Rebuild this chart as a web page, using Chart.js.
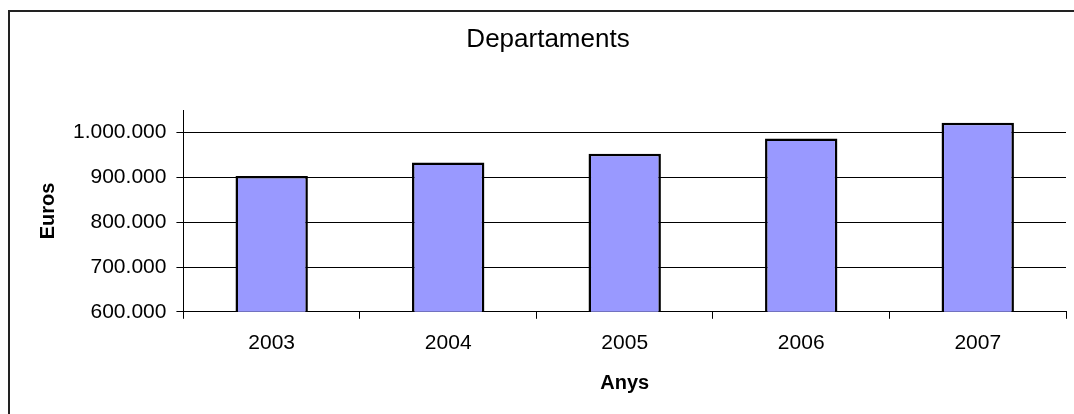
<!DOCTYPE html>
<html>
<head>
<meta charset="utf-8">
<script src="https://cdn.jsdelivr.net/npm/chart.js@4"></script>
<style>
	html, body { margin: 0; padding: 0; background: #fff; overflow: hidden; }
	#marc { position: absolute; left: 8px; top: 10px; width: 2000px; height: 2000px;
		border-left: 2px solid #222; border-top: 2px solid #222; }
	#caixa { position: absolute; left: 0; top: 0; width: 1074px; height: 414px; }
</style>
</head>
<body>
<div id="marc"></div>
<div id="caixa"><canvas id="grafic"></canvas></div>
<script>
const anys = ['2003', '2004', '2005', '2006', '2007'];
const euros = [903000, 933000, 953000, 987000, 1022000];
const ticksEuros = [600000, 700000, 800000, 900000, 1000000];

function formatEuros(v) {
	return String(v).replace(/\B(?=(\d{3})+(?!\d))/g, '.');
}

const font = 'Liberation Sans, Arial, sans-serif';
Chart.defaults.font.family = font;
Chart.defaults.color = '#000';

const ctx = document.getElementById('grafic').getContext('2d');
const chart = new Chart(ctx, {
	type: 'bar',
	data: {
		labels: anys,
		datasets: [{
			label: 'Departaments',
			data: euros,
			backgroundColor: '#9999ff',
			borderColor: '#000',
			borderWidth: 2.5,
			borderSkipped: false,
			categoryPercentage: 1,
			barPercentage: 0.41
		}]
	},
	options: {
		responsive: true,
		maintainAspectRatio: false,
		animation: false,
		layout: { padding: { left: 30, right: 8, top: 0, bottom: 0 } },
		plugins: {
			legend: { display: false },
			tooltip: { enabled: false },
			title: {
				display: true,
				text: 'Departaments',
				color: '#000',
				font: { size: 26, weight: 'normal' },
				padding: { top: 24, bottom: 55 }
			}
		},
		scales: {
			x: {
				grid: { display: true, drawOnChartArea: false, drawTicks: true, tickLength: 7, color: '#000', offset: true },
				border: { display: true, color: '#000', width: 1 },
				ticks: { font: { size: 21 }, padding: 12, color: '#000', maxRotation: 0 },
				title: { display: true, text: 'Anys', font: { size: 20, weight: 'bold' }, color: '#000', padding: { top: 3, bottom: 19 } }
			},
			y: {
				min: 600000,
				max: 1050000,
				afterBuildTicks: axis => { axis.ticks = ticksEuros.map(v => ({ value: v })); },
				grid: { color: '#000', lineWidth: 1, drawTicks: true, tickLength: 7 },
				border: { display: true, color: '#000', width: 1 },
				ticks: { font: { size: 21 }, padding: 10, color: '#000', callback: v => formatEuros(v) },
				title: { display: true, text: 'Euros', font: { size: 20, weight: 'bold' }, color: '#000', padding: { top: 6, bottom: 3 } }
			}
		}
	}
});
</script>
</body>
</html>
